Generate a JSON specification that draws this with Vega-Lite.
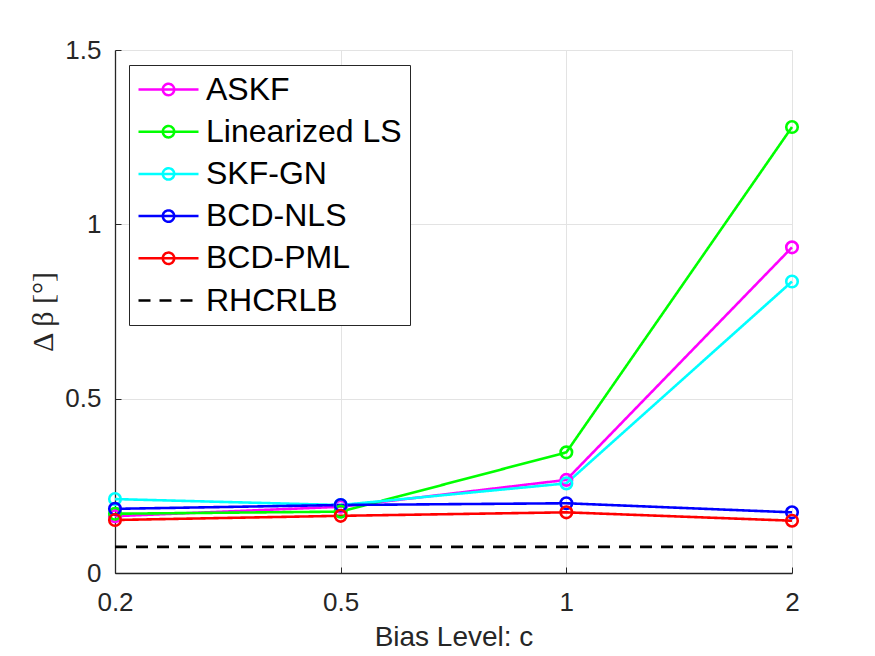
{
  "$schema": "https://vega.github.io/schema/vega-lite/v6.json",
  "autosize": {"type": "none"},
  "padding": {"left": 115, "top": 50, "right": 83, "bottom": 83},
  "width": 677,
  "height": 523,
  "background": "white",
  "config": {
    "view": {"stroke": null},
    "font": "Liberation Sans",
    "axis": {
      "domainColor": "#262626",
      "tickColor": "#262626",
      "labelColor": "#262626",
      "titleColor": "#262626",
      "gridColor": "#e3e3e3",
      "gridWidth": 1,
      "labelFont": "Liberation Sans",
      "labelFontSize": 26,
      "tickSize": -6,
      "domainWidth": 1.3
    }
  },
  "data": {
    "values": [
      {"c": "0.2", "s": "ASKF", "v": 0.163},
      {"c": "0.5", "s": "ASKF", "v": 0.19},
      {"c": "1", "s": "ASKF", "v": 0.267},
      {"c": "2", "s": "ASKF", "v": 0.934},
      {"c": "0.2", "s": "Linearized LS", "v": 0.17},
      {"c": "0.5", "s": "Linearized LS", "v": 0.176},
      {"c": "1", "s": "Linearized LS", "v": 0.346},
      {"c": "2", "s": "Linearized LS", "v": 1.279},
      {"c": "0.2", "s": "SKF-GN", "v": 0.212},
      {"c": "0.5", "s": "SKF-GN", "v": 0.195},
      {"c": "1", "s": "SKF-GN", "v": 0.257},
      {"c": "2", "s": "SKF-GN", "v": 0.836},
      {"c": "0.2", "s": "BCD-NLS", "v": 0.184},
      {"c": "0.5", "s": "BCD-NLS", "v": 0.195},
      {"c": "1", "s": "BCD-NLS", "v": 0.2},
      {"c": "2", "s": "BCD-NLS", "v": 0.174},
      {"c": "0.2", "s": "BCD-PML", "v": 0.152},
      {"c": "0.5", "s": "BCD-PML", "v": 0.164},
      {"c": "1", "s": "BCD-PML", "v": 0.174},
      {"c": "2", "s": "BCD-PML", "v": 0.15},
      {"c": "0.2", "s": "RHCRLB", "v": 0.075},
      {"c": "0.5", "s": "RHCRLB", "v": 0.075},
      {"c": "1", "s": "RHCRLB", "v": 0.075},
      {"c": "2", "s": "RHCRLB", "v": 0.075}
    ]
  },
  "encoding": {
    "x": {
      "field": "c",
      "type": "ordinal",
      "sort": ["0.2", "0.5", "1", "2"],
      "scale": {"type": "point", "padding": 0},
      "axis": {
        "title": "Bias Level: c",
        "titleFontSize": 28,
        "titleFontWeight": "normal",
        "titlePadding": 8,
        "labelAngle": 0,
        "labelPadding": 22,
        "grid": true
      }
    },
    "y": {
      "field": "v",
      "type": "quantitative",
      "scale": {"domain": [0, 1.5], "nice": false, "zero": false},
      "axis": {
        "title": "Δ β [°]",
        "titleFont": "Liberation Serif",
        "titleFontSize": 30,
        "titleFontWeight": "normal",
        "titlePadding": 6,
        "values": [0, 0.5, 1, 1.5],
        "format": "~g",
        "labelPadding": 20,
        "grid": true
      }
    },
    "color": {
      "field": "s",
      "type": "nominal",
      "scale": {
        "domain": ["ASKF", "Linearized LS", "SKF-GN", "BCD-NLS", "BCD-PML", "RHCRLB"],
        "range": ["#ff00ff", "#00ff00", "#00ffff", "#0000ff", "#ff0000", "#000000"]
      },
      "legend": {
        "title": null,
        "orient": "none",
        "legendX": 14,
        "legendY": 15,
        "padding": 8,
        "strokeColor": "#262626",
        "fillColor": "white",
        "labelFont": "Liberation Sans",
        "labelFontSize": 32,
        "labelColor": "#000000",
        "labelOffset": 21,
        "rowPadding": 9.2,
        "symbolSize": 900,
        "symbolOffset": 15,
        "symbolStrokeWidth": 2.5,
        "labelLimit": 400,
        "encode": {
          "symbols": {
            "update": {
              "shape": [
                {"test": "datum.value === 'RHCRLB'", "value": "M-2,0H2"},
                {"value": "M-2,0H2M0.38,0A0.38,0.38,0,1,1,-0.38,0A0.38,0.38,0,1,1,0.38,0Z"}
              ],
              "fill": {"value": "transparent"}
            }
          }
        }
      }
    }
  },
  "layer": [
    {
      "mark": {"type": "line", "strokeWidth": 2.6, "clip": false},
      "encoding": {
        "strokeDash": {
          "field": "s",
          "type": "nominal",
          "scale": {
            "domain": ["ASKF", "Linearized LS", "SKF-GN", "BCD-NLS", "BCD-PML", "RHCRLB"],
            "range": [[1, 0], [1, 0], [1, 0], [1, 0], [1, 0], [12, 9]]
          }
        }
      }
    },
    {
      "transform": [{"filter": "datum.s !== 'RHCRLB'"}],
      "mark": {"type": "point", "filled": false, "size": 133, "strokeWidth": 2.6, "opacity": 1},
      "encoding": {}
    }
  ]
}
